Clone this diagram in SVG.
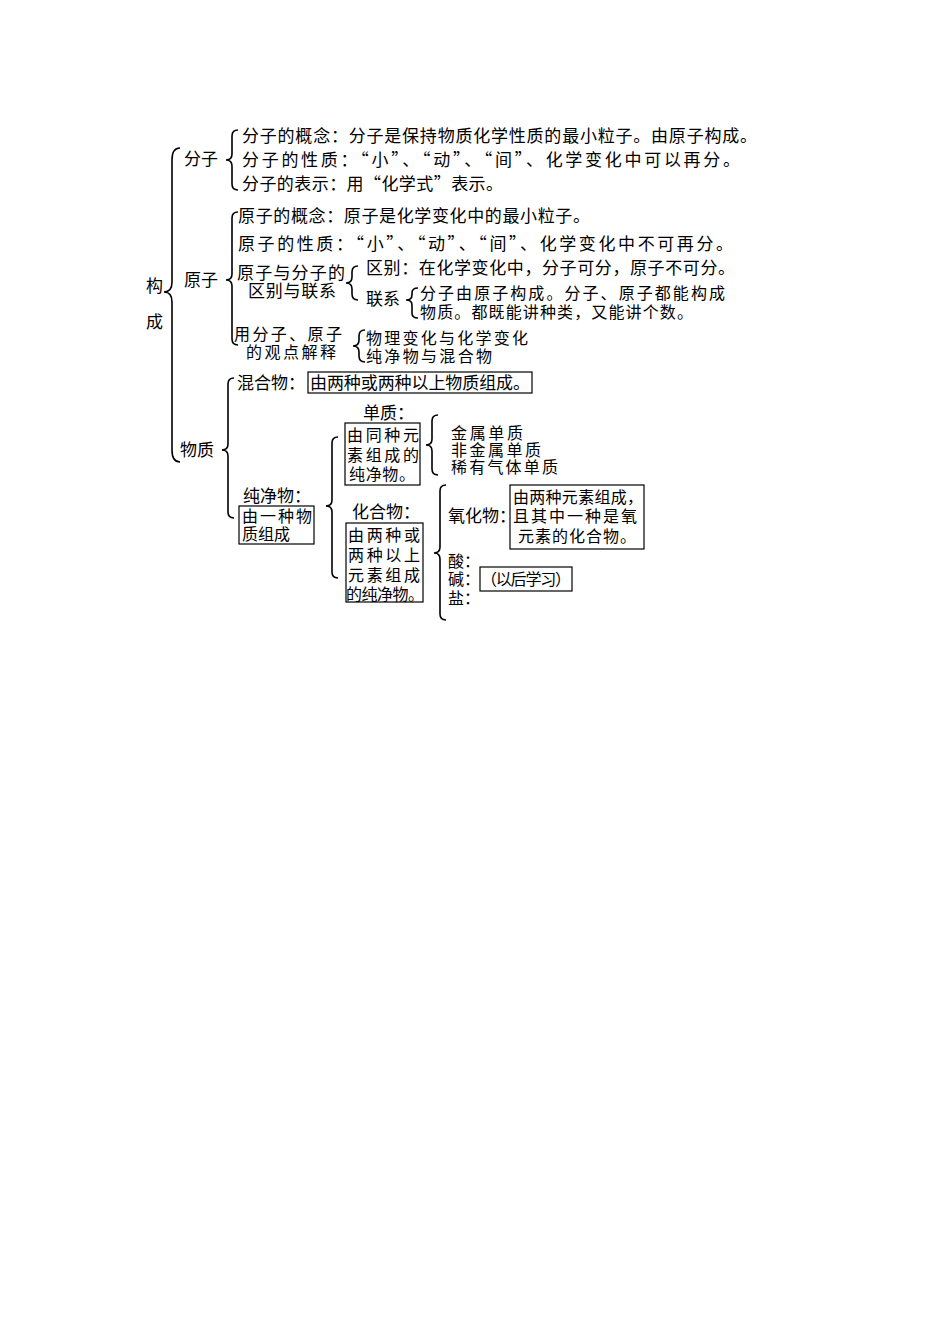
<svg xmlns="http://www.w3.org/2000/svg" width="950" height="1344" viewBox="0 0 950 1344">
<style>
text{font-family:"Noto Sans CJK SC","Liberation Sans",sans-serif;font-size:17px;fill:#000}
.s{font-size:16px}
.b{fill:none;stroke:#000;stroke-width:1.6}
.r{fill:none;stroke:#000;stroke-width:1.2}
</style>
<rect width="950" height="1344" fill="#fff"/>
<g id="connectors">
<path class="b" d="M180 148 Q172 148 172 160 L172 282 Q172 292 164 292 Q172 292 172 302 L172 450 Q172 462 180 462"/>
<path class="b" d="M238 130 Q232 130 232 136 L232 154 Q232 160 226 160 Q232 160 232 166 L232 184 Q232 190 238 190"/>
<path class="b" d="M238 212 Q232 212 232 218 L232 274 Q232 280 226 280 Q232 280 232 286 L232 339 Q232 345 238 345"/>
<path class="b" d="M358 266 Q352 266 352 272 L352 277 Q352 283 346 283 Q352 283 352 289 L352 294 Q352 300 358 300"/>
<path class="b" d="M418 288 Q412 288 412 293 L412 295 Q412 300 406 300 Q412 300 412 305 L412 313 Q412 318 418 318"/>
<path class="b" d="M365 330 Q359 330 359 336 L359 340 Q359 346 353 346 Q359 346 359 352 L359 356 Q359 362 365 362"/>
<path class="b" d="M234 378 Q228 378 228 384 L228 444 Q228 450 222 450 Q228 450 228 456 L228 512 Q228 518 234 518"/>
<path class="b" d="M338 437 Q332 437 332 443 L332 500 Q332 506 326 506 Q332 506 332 512 L332 572 Q332 578 338 578"/>
<path class="b" d="M438 415 Q432 415 432 421 L432 439 Q432 445 426 445 Q432 445 432 451 L432 469 Q432 475 438 475"/>
<path class="b" d="M446 485 Q440 485 440 491 L440 547 Q440 553 434 553 Q440 553 440 559 L440 614 Q440 620 446 620"/>
</g>
<g id="root"><text x="146" y="292">构</text><text x="146" y="328">成</text></g>
<g id="fenzi">
<text x="184" y="165">分子</text>
<text x="242" y="142" textLength="515" lengthAdjust="spacing">分子的概念：分子是保持物质化学性质的最小粒子。由原子构成。</text>
<text x="242" y="166" textLength="498" lengthAdjust="spacing">分子的性质：“小”、“动”、“间”、化学变化中可以再分。</text>
<text x="242" y="190" textLength="261" lengthAdjust="spacing">分子的表示：用“化学式”表示。</text>
</g>
<g id="yuanzi">
<text x="184" y="286">原子</text>
<text x="238" y="222" textLength="352" lengthAdjust="spacing">原子的概念：原子是化学变化中的最小粒子。</text>
<text x="238" y="250" textLength="495" lengthAdjust="spacing">原子的性质：“小”、“动”、“间”、化学变化中不可再分。</text>
<text x="237" y="279" textLength="108" lengthAdjust="spacing">原子与分子的</text>
<text x="248" y="297" textLength="88" lengthAdjust="spacing">区别与联系</text>
<text x="366" y="274" textLength="369" lengthAdjust="spacing">区别：在化学变化中，分子可分，原子不可分。</text>
<text x="366" y="305">联系</text>
<text class="s" x="420" y="299" textLength="305" lengthAdjust="spacing">分子由原子构成。分子、原子都能构成</text>
<text class="s" x="420" y="318" textLength="273" lengthAdjust="spacing">物质。都既能讲种类，又能讲个数。</text>
<text class="s" x="234" y="340" textLength="108" lengthAdjust="spacing">用分子、原子</text>
<text class="s" x="246" y="358" textLength="90" lengthAdjust="spacing">的观点解释</text>
<text class="s" x="366" y="344" textLength="162" lengthAdjust="spacing">物理变化与化学变化</text>
<text class="s" x="366" y="362" textLength="126" lengthAdjust="spacing">纯净物与混合物</text>
</g>
<g id="wuzhi">
<text x="180" y="456">物质</text>
<text x="237" y="389">混合物：</text>
<rect class="r" x="308" y="372" width="224" height="21"/>
<text x="310" y="389" textLength="220" lengthAdjust="spacing">由两种或两种以上物质组成。</text>
<text x="243" y="502">纯净物：</text>
<rect class="r" x="239" y="506" width="75" height="38"/>
<text class="s" x="242" y="522" textLength="70" lengthAdjust="spacing">由一种物</text>
<text class="s" x="242" y="540">质组成</text>
</g>
<g id="danzhi">
<text x="363" y="419">单质：</text>
<rect class="r" x="345" y="423" width="75" height="62"/>
<text class="s" x="347" y="441" textLength="72" lengthAdjust="spacing">由同种元</text>
<text class="s" x="347" y="461" textLength="72" lengthAdjust="spacing">素组成的</text>
<text class="s" x="349" y="480" textLength="66" lengthAdjust="spacing">纯净物。</text>
<text class="s" x="451" y="439" textLength="72" lengthAdjust="spacing">金属单质</text>
<text class="s" x="451" y="456" textLength="90" lengthAdjust="spacing">非金属单质</text>
<text class="s" x="451" y="473" textLength="107" lengthAdjust="spacing">稀有气体单质</text>
</g>
<g id="huahewu">
<text x="352" y="518">化合物：</text>
<rect class="r" x="346" y="523" width="77" height="79"/>
<text class="s" x="348" y="541" textLength="72" lengthAdjust="spacing">由两种或</text>
<text class="s" x="348" y="561" textLength="72" lengthAdjust="spacing">两种以上</text>
<text class="s" x="348" y="581" textLength="72" lengthAdjust="spacing">元素组成</text>
<text class="s" x="346" y="600" textLength="78" lengthAdjust="spacing">的纯净物。</text>
<text x="448" y="522">氧化物：</text>
<rect class="r" x="510" y="485" width="134" height="64"/>
<text class="s" x="513" y="503" textLength="130" lengthAdjust="spacing">由两种元素组成，</text>
<text class="s" x="513" y="522" textLength="124" lengthAdjust="spacing">且其中一种是氧</text>
<text class="s" x="518" y="542" textLength="118" lengthAdjust="spacing">元素的化合物。</text>
<text class="s" x="448" y="567">酸：</text>
<text class="s" x="448" y="585">碱：</text>
<text class="s" x="448" y="604">盐：</text>
<rect class="r" x="480" y="567" width="92" height="24"/>
<text class="s" x="481" y="585" textLength="90" lengthAdjust="spacing">（以后学习）</text>
</g>
</svg>
